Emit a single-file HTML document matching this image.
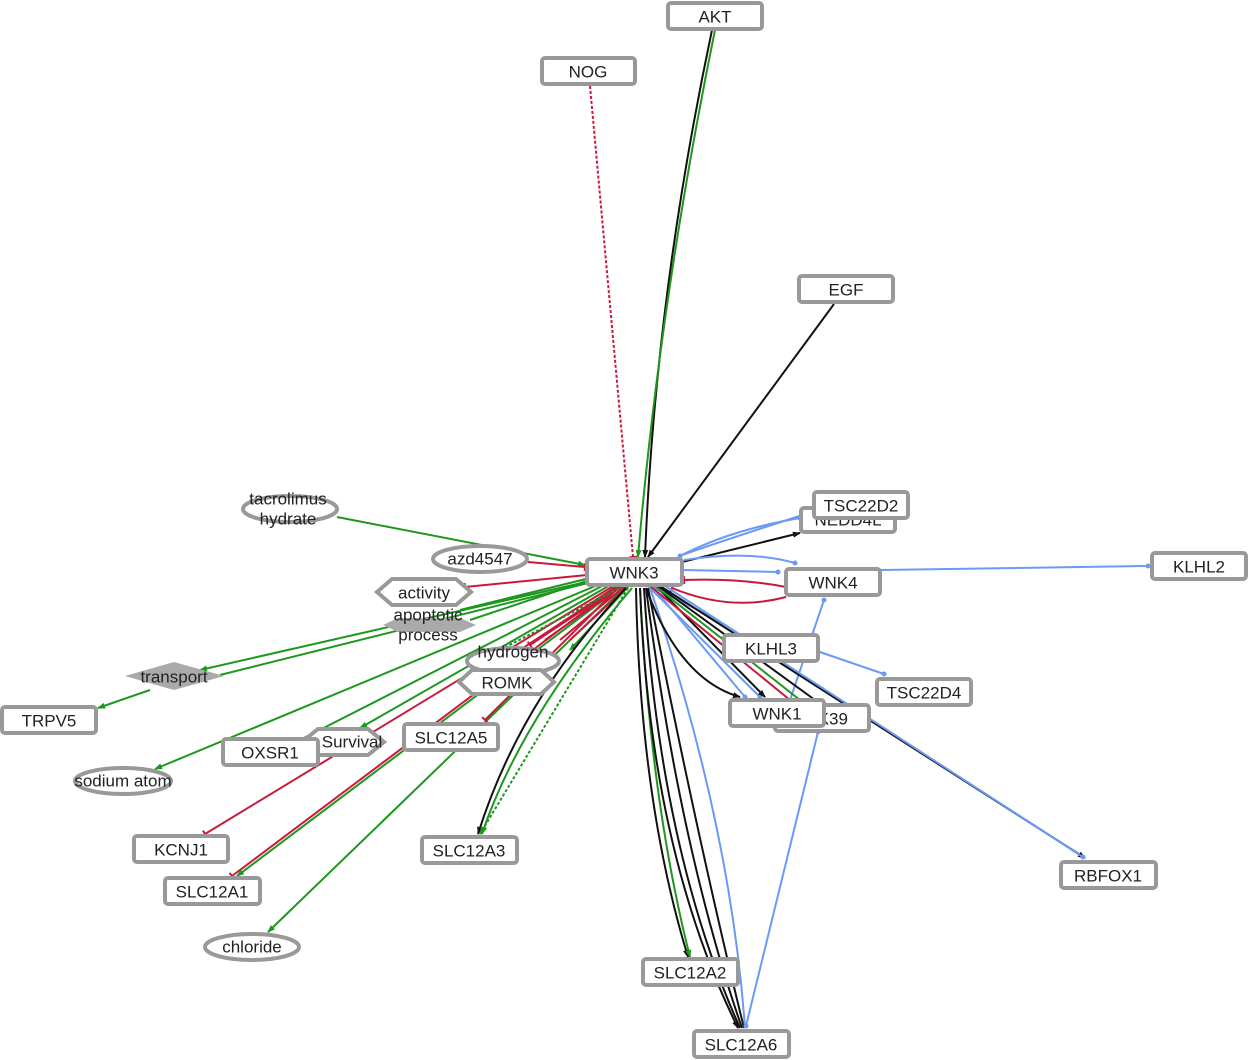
<!DOCTYPE html>
<html><head><meta charset="utf-8"><style>
html,body{margin:0;padding:0;background:#fff;}
svg{display:block;}
text{font-family:"Liberation Sans",sans-serif;font-size:17px;fill:#222;text-anchor:middle;dominant-baseline:central;}
.n{fill:#fff;stroke:#999;stroke-width:4;}
.g{stroke:#1d971d;fill:none;stroke-width:2;}
.r{stroke:#c8193c;fill:none;stroke-width:2;}
.b{stroke:#6a9af5;fill:none;stroke-width:2;}
.k{stroke:#111;fill:none;stroke-width:2;}
</style></head><body>
<svg width="1249" height="1060" viewBox="0 0 1249 1060" xmlns="http://www.w3.org/2000/svg">
<defs>
<marker id="ag" markerUnits="userSpaceOnUse" markerWidth="8" markerHeight="8" refX="7" refY="4" orient="auto"><path d="M0,1 L8,4 L0,7z" fill="#1d971d"/></marker>
<marker id="ak" markerUnits="userSpaceOnUse" markerWidth="8" markerHeight="8" refX="7" refY="4" orient="auto"><path d="M0,1 L8,4 L0,7z" fill="#111"/></marker>
<marker id="tr" markerUnits="userSpaceOnUse" markerWidth="4" markerHeight="8" refX="2" refY="4" orient="auto"><path d="M2,0 L2,8" stroke="#c8193c" stroke-width="2"/></marker>
<marker id="db" markerUnits="userSpaceOnUse" markerWidth="6" markerHeight="6" refX="3" refY="3"><circle cx="3" cy="3" r="2.5" fill="#6a9af5"/></marker>
</defs>
<path class="k" d="M712,30 Q655,300 645,557" marker-end="url(#ak)"/>
<path class="g" d="M715,30 Q660,300 638,557" marker-end="url(#ag)"/>
<path class="r" d="M590,86 L633,557" stroke-dasharray="3,2" marker-end="url(#tr)"/>
<path class="k" d="M834,304 L648,557" marker-end="url(#ak)"/>
<path class="g" d="M337,517 L585,565" marker-end="url(#ag)"/>
<path class="r" d="M528,562 L585,567" marker-end="url(#tr)"/>
<path class="r" d="M587,575 L465,587" marker-end="url(#tr)"/>
<path class="g" d="M590,578 L460,610"/><path class="g" d="M590,580 L470,620"/>
<path class="g" d="M595,580 L200,670" marker-end="url(#ag)"/>
<path class="g" d="M600,580 L220,675"/>
<path class="g" d="M150,690 L98,708" marker-end="url(#ag)"/>
<path class="g" d="M605,582 L155,769" marker-end="url(#ag)"/>
<path class="g" d="M610,582 L300,740"/>
<path class="g" d="M612,584 L360,728" marker-end="url(#ag)"/>
<path class="r" d="M615,585 L205,834" marker-end="url(#tr)"/>
<path class="r" d="M618,586 L232,876" marker-end="url(#tr)"/>
<path class="g" d="M622,586 L237,876" marker-end="url(#ag)"/>
<path class="g" d="M625,587 L268,932" marker-end="url(#ag)"/>
<path class="r" d="M620,586 L485,720" marker-end="url(#tr)"/>
<path class="r" d="M617,586 L520,650" marker-end="url(#tr)"/>
<path class="r" d="M619,586 L530,645" marker-end="url(#tr)"/>
<path class="r" d="M622,586 L545,640"/><path class="r" d="M625,586 L560,640"/><path class="r" d="M628,586 L570,640"/>
<path class="g" d="M623,586 L500,650" stroke-dasharray="3,2" marker-end="url(#ag)"/>
<path class="g" d="M628,587 L570,650" marker-end="url(#ag)"/>
<path class="k" d="M626,588 Q520,700 478,834" marker-end="url(#ak)"/>
<path class="g" d="M628,588 L480,834" stroke-dasharray="3,2" marker-end="url(#ag)"/>
<path class="g" d="M632,588 Q520,720 482,834" marker-end="url(#ag)"/>
<path class="k" d="M636,588 Q640,800 688,957" marker-end="url(#ak)"/>
<path class="g" d="M640,588 Q650,800 690,957" marker-end="url(#ag)"/>
<path class="k" d="M640,588 Q650,850 738,1028" marker-end="url(#ak)"/>
<path class="k" d="M644,588 Q660,850 740,1028"/>
<path class="k" d="M646,588 Q680,850 742,1028"/>
<path class="k" d="M648,588 Q700,850 744,1028"/>
<path class="b" d="M650,588 Q730,820 745,1028"/>
<path class="b" d="M818,732 L746,1026" marker-start="url(#db)" marker-end="url(#db)"/>
<path class="b" d="M680,556 Q730,530 800,518" marker-start="url(#db)" marker-end="url(#db)"/>
<path class="b" d="M682,555 Q740,535 812,512"/>
<path class="k" d="M682,562 L800,533" marker-end="url(#ak)"/>
<path class="b" d="M684,560 Q750,550 795,563" marker-end="url(#db)"/>
<path class="b" d="M684,570 L778,572" marker-end="url(#db)"/>
<path class="b" d="M880,570 L1148,566" marker-end="url(#db)"/>
<path class="r" d="M786,587 Q740,578 684,580" marker-end="url(#tr)"/>
<path class="r" d="M786,597 Q730,612 672,588" marker-end="url(#tr)"/>
<path class="b" d="M824,600 L790,700" marker-start="url(#db)"/>
<path class="b" d="M814,650 L884,674" marker-end="url(#db)"/>
<path class="b" d="M650,586 Q720,620 740,635"/>
<path class="b" d="M652,586 L745,697" marker-end="url(#db)"/>
<path class="b" d="M648,586 L760,697" marker-end="url(#db)"/>
<path class="k" d="M646,588 Q680,680 740,697" marker-end="url(#ak)"/>
<path class="k" d="M655,585 L765,697" marker-end="url(#ak)"/>
<path class="r" d="M650,586 L790,700"/>
<path class="g" d="M655,586 L800,700"/>
<path class="k" d="M658,586 L815,700"/>
<path class="k" d="M660,586 L1085,858" marker-end="url(#ak)"/>
<path class="b" d="M662,584 L1083,857" marker-end="url(#db)"/>
<rect class="n" x="668" y="3" width="94" height="26" rx="3"/><text x="715" y="17">AKT</text>
<rect class="n" x="542" y="58" width="93" height="26" rx="3"/><text x="588" y="72">NOG</text>
<rect class="n" x="799" y="276" width="94" height="26" rx="3"/><text x="846" y="290">EGF</text>
<rect class="n" x="801" y="508" width="94" height="24" rx="3"/><text x="848" y="520">NEDD4L</text>
<rect class="n" x="814" y="492" width="94" height="26" rx="3"/><text x="861" y="506">TSC22D2</text>
<rect class="n" x="587" y="559" width="95" height="26" rx="3"/><text x="634" y="573">WNK3</text>
<rect class="n" x="786" y="569" width="94" height="26" rx="3"/><text x="833" y="583">WNK4</text>
<rect class="n" x="1152" y="553" width="94" height="26" rx="3"/><text x="1199" y="567">KLHL2</text>
<rect class="n" x="724" y="635" width="94" height="26" rx="3"/><text x="771" y="649">KLHL3</text>
<rect class="n" x="877" y="679" width="94" height="26" rx="3"/><text x="924" y="693">TSC22D4</text>
<rect class="n" x="775" y="705" width="94" height="26" rx="3"/><text x="822" y="719">STK39</text>
<rect class="n" x="730" y="700" width="94" height="26" rx="3"/><text x="777" y="714">WNK1</text>
<rect class="n" x="1061" y="862" width="95" height="26" rx="3"/><text x="1108" y="876">RBFOX1</text>
<rect class="n" x="643" y="959" width="95" height="26" rx="3"/><text x="690" y="973">SLC12A2</text>
<rect class="n" x="694" y="1031" width="95" height="26" rx="3"/><text x="741" y="1045">SLC12A6</text>
<rect class="n" x="422" y="837" width="95" height="26" rx="3"/><text x="469" y="851">SLC12A3</text>
<polygon class="n" points="302,742 318,729 368,729 384,742 368,755 302,755"/><text x="352" y="742">Survival</text>
<rect class="n" x="404" y="724" width="94" height="26" rx="3"/><text x="451" y="738">SLC12A5</text>
<rect class="n" x="134" y="836" width="94" height="26" rx="3"/><text x="181" y="850">KCNJ1</text>
<rect class="n" x="165" y="878" width="95" height="26" rx="3"/><text x="212" y="892">SLC12A1</text>
<rect class="n" x="2" y="707" width="94" height="26" rx="3"/><text x="49" y="721">TRPV5</text>
<rect class="n" x="223" y="739" width="95" height="26" rx="3"/><text x="270" y="753">OXSR1</text>
<ellipse class="n" cx="252" cy="947" rx="47" ry="13"/><text x="252" y="947">chloride</text>
<ellipse class="n" cx="123" cy="781" rx="48" ry="13"/><text x="123" y="781">sodium atom</text>
<ellipse class="n" cx="290" cy="509" rx="47" ry="13"/><text x="288" y="499">tacrolimus</text><text x="288" y="519">hydrate</text>
<ellipse class="n" cx="480" cy="559" rx="47" ry="13"/><text x="480" y="559">azd4547</text>
<polygon class="n" points="377,592 392,579 456,579 471,592 456,605 392,605"/><text x="424" y="593">activity</text>
<polygon fill="#aaa" points="383,625 398,618 460,618 476,625 460,632 398,632"/><text x="428" y="615">apoptotic</text><text x="428" y="635">process</text>
<polygon fill="#aaa" points="125,676 174,662 224,676 174,690"/><text x="174" y="677">transport</text>
<ellipse class="n" cx="513" cy="661" rx="46" ry="13"/><text x="513" y="652">hydrogen</text>
<polygon class="n" points="459,682 472,670 541,670 554,682 541,694 472,694"/><text x="507" y="683">ROMK</text>
</svg>
</body></html>
